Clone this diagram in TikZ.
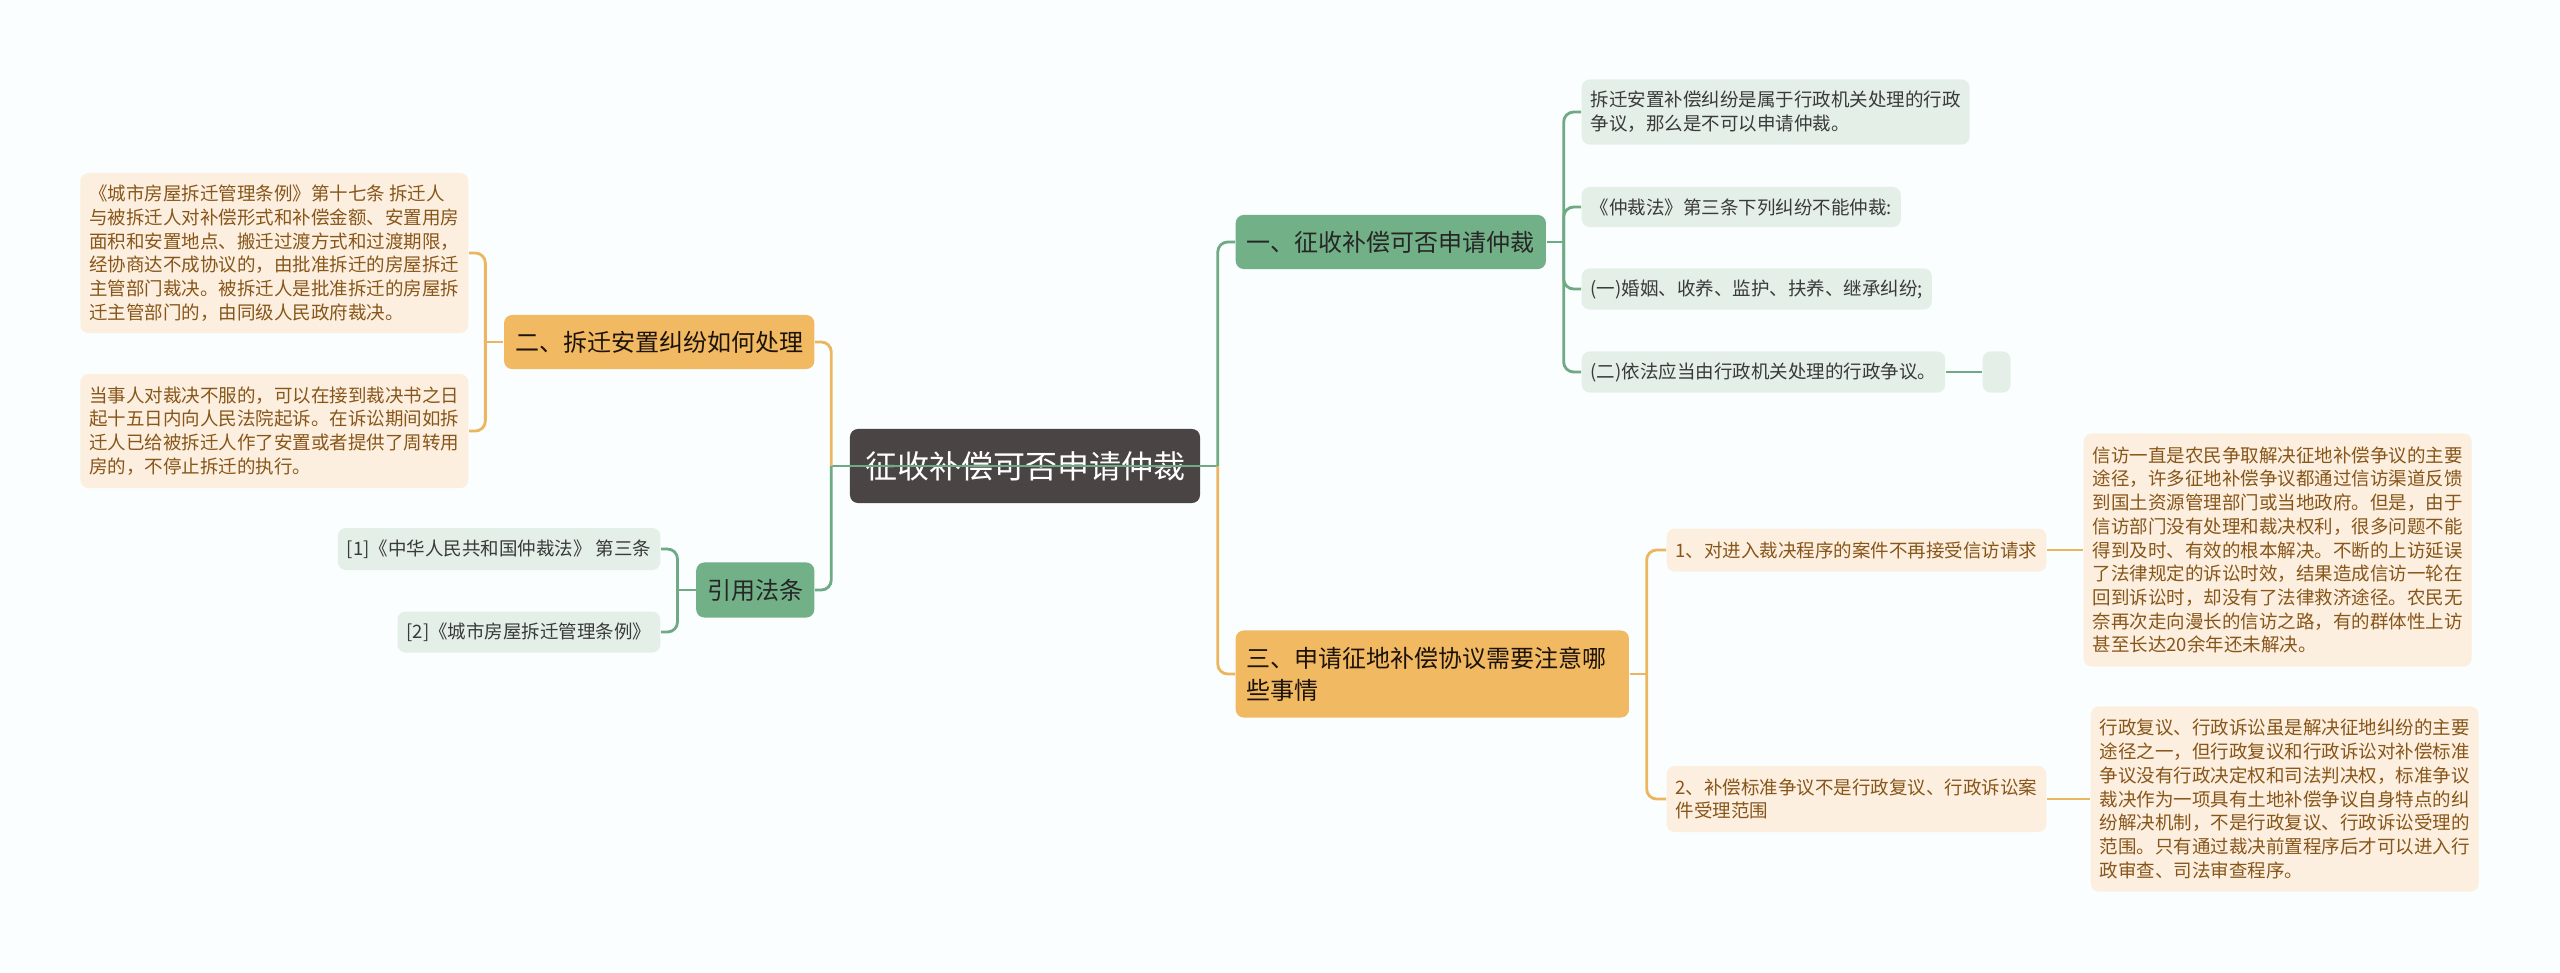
\documentclass[tikz,border=0pt]{standalone}
\usepackage{fontspec}
\setmainfont{Noto Sans CJK SC}
\usepackage{tikz}
\usetikzlibrary{positioning}

\definecolor{bgcol}{HTML}{FAFEFE}
\definecolor{rootfill}{HTML}{4A4544}
\definecolor{gmain}{HTML}{72B087}
\definecolor{gleaf}{HTML}{E3EFE7}
\definecolor{gtext}{HTML}{3A3A3A}
\definecolor{omain}{HTML}{F0B962}
\definecolor{oleaf}{HTML}{FDEFDF}
\definecolor{otext}{HTML}{87561A}
\definecolor{gedge}{HTML}{6FAA85}
\definecolor{oedge}{HTML}{ECB55F}

\begin{document}
\begin{tikzpicture}[x=0.01cm,y=-0.01cm,
    rootbox/.style={rounded corners=0.08cm, fill=rootfill, text=white, inner xsep=0.15cm,
        minimum height=0.74cm, font=\fontsize{9.1pt}{11pt}\selectfont},
    mainbox/.style={rounded corners=0.08cm, inner xsep=0.11cm, inner ysep=0pt, align=left,
        minimum height=0.54cm, font=\fontsize{6.83pt}{9.1pt}\selectfont},
    mainG/.style={mainbox, fill=gmain, text=black!85},
    mainO/.style={mainbox, fill=omain, text=black!85!brown},
    leaf/.style={rounded corners=0.08cm, inner xsep=0.09cm, inner ysep=0pt, align=left,
        font=\fontsize{5.26pt}{6.74pt}\selectfont},
    leafG/.style={leaf, fill=gleaf, text=gtext},
    leafO/.style={leaf, fill=oleaf, text=otext},
    gline/.style={draw=gedge, line width=0.8pt, rounded corners=0.1cm},
    oline/.style={draw=oedge, line width=0.8pt, rounded corners=0.1cm}]

    \path[use as bounding box, fill=bgcol] (0,0) rectangle (2560,972);

    % centre and main topics
    \node[rootbox] (root) at (1025,466) {征收补偿可否申请仲裁};
    \node[mainG, anchor=west] (zc) at (1235,242) {一、征收补偿可否申请仲裁};
    \node[mainO, anchor=west, text width=3.71cm, minimum height=0.87cm] (sq) at (1235,674) {三、申请征地补偿协议需要注意哪\\些事情};
    \node[mainO, anchor=east] (cq) at (815,342) {二、拆迁安置纠纷如何处理};
    \node[mainG, anchor=east, minimum height=0.55cm] (yy) at (815,590) {引用法条};

    % 一
    \node[leafG, anchor=west, minimum height=0.65cm] (zc1) at (1581,112) {拆迁安置补偿纠纷是属于行政机关处理的行政\\争议，那么是不可以申请仲裁。};
    \node[leafG, anchor=west, minimum height=0.40cm] (zc2) at (1581,207) {《仲裁法》第三条下列纠纷不能仲裁:};
    \node[leafG, anchor=west, minimum height=0.41cm] (zc3) at (1581,289) {(一)婚姻、收养、监护、扶养、继承纠纷;};
    \node[leafG, anchor=west, minimum height=0.41cm] (zc4) at (1581,372) {(二)依法应当由行政机关处理的行政争议。};
    \node[leafG, minimum width=0.28cm, minimum height=0.41cm, right=0.36cm of zc4] (zc5) {};

    % 二
    \node[leafO, anchor=east, minimum height=1.60cm] (cq1) at (469,253) {《城市房屋拆迁管理条例》第十七条 拆迁人\\与被拆迁人对补偿形式和补偿金额、安置用房\\面积和安置地点、搬迁过渡方式和过渡期限，\\经协商达不成协议的，由批准拆迁的房屋拆迁\\主管部门裁决。被拆迁人是批准拆迁的房屋拆\\迁主管部门的，由同级人民政府裁决。};
    \node[leafO, anchor=east, minimum height=1.14cm] (cq2) at (469,431) {当事人对裁决不服的，可以在接到裁决书之日\\起十五日内向人民法院起诉。在诉讼期间如拆\\迁人已给被拆迁人作了安置或者提供了周转用\\房的，不停止拆迁的执行。};

    % 引用法条
    \node[leafG, anchor=east, minimum height=0.42cm] (yy1) at (661,549) {[1]《中华人民共和国仲裁法》 第三条};
    \node[leafG, anchor=east, minimum height=0.41cm] (yy2) at (661,632) {[2]《城市房屋拆迁管理条例》};

    % 三
    \node[leafO, anchor=west, minimum height=0.43cm] (sq1) at (1666,550) {1、对进入裁决程序的案件不再接受信访请求};
    \node[leafO, anchor=west, minimum height=0.66cm] (sq2) at (1666,799) {2、补偿标准争议不是行政复议、行政诉讼案\\件受理范围};
    \node[leafO, anchor=west, minimum height=2.33cm] (sq1a) at (2083,550) {信访一直是农民争取解决征地补偿争议的主要\\途径，许多征地补偿争议都通过信访渠道反馈\\到国土资源管理部门或当地政府。但是，由于\\信访部门没有处理和裁决权利，很多问题不能\\得到及时、有效的根本解决。不断的上访延误\\了法律规定的诉讼时效，结果造成信访一轮在\\回到诉讼时，却没有了法律救济途径。农民无\\奈再次走向漫长的信访之路，有的群体性上访\\甚至长达20余年还未解决。};
    \node[leafO, anchor=west, minimum height=1.85cm] (sq2a) at (2090,799) {行政复议、行政诉讼虽是解决征地纠纷的主要\\途径之一，但行政复议和行政诉讼对补偿标准\\争议没有行政决定权和司法判决权，标准争议\\裁决作为一项具有土地补偿争议自身特点的纠\\纷解决机制，不是行政复议、行政诉讼受理的\\范围。只有通过裁决前置程序后才可以进入行\\政审查、司法审查程序。};

    % junctions
    \coordinate (jR) at ([xshift=0.17cm]root.east);
    \coordinate (jL) at ([xshift=-0.18cm]root.west);
    \coordinate (j1) at ([xshift=0.17cm]zc.east);
    \coordinate (j3) at ([xshift=0.17cm]sq.east);
    \coordinate (j2) at ([xshift=-0.18cm]cq.west);
    \coordinate (jc) at ([xshift=-0.18cm]yy.west);

    % connectors
    \draw[gline] (jL) -- (jR);
    \draw[gline] (jR) |- (zc.west);
    \draw[oline] (jR) |- (sq.west);
    \draw[oline] (jL) |- (cq.east);
    \draw[gline] (jL) |- (yy.east);

    \draw[gline] (zc.east) -- (j1);
    \foreach \n in {zc1,zc2,zc3,zc4}
        \draw[gline] (j1) |- (\n.west);
    \draw[gline] (zc4) -- (zc5);

    \draw[oline] (sq.east) -- (j3);
    \foreach \n in {sq1,sq2}
        \draw[oline] (j3) |- (\n.west);
    \draw[oline] (sq1) -- (sq1a);
    \draw[oline] (sq2) -- (sq2a);

    \draw[oline] (cq.west) -- (j2);
    \foreach \n in {cq1,cq2}
        \draw[oline] (j2) |- (\n.east);

    \draw[gline] (yy.west) -- (jc);
    \foreach \n in {yy1,yy2}
        \draw[gline] (jc) |- (\n.east);
\end{tikzpicture}
\end{document}
